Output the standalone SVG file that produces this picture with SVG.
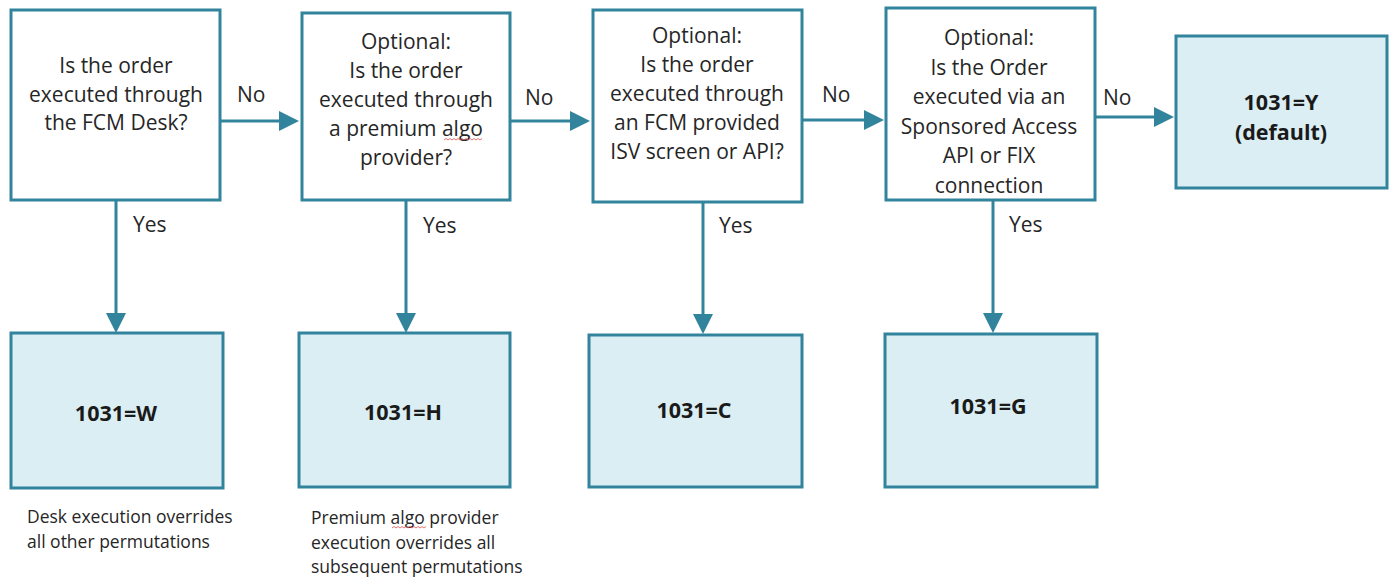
<svg xmlns="http://www.w3.org/2000/svg" width="1393" height="577" viewBox="0 0 1393 577">
<style>
  .q { fill: #ffffff; stroke: #31849B; stroke-width: 3; }
  .r { fill: #DAEEF3; stroke: #31849B; stroke-width: 3; }
  .t { font-family: "Open Sans", "Liberation Sans", sans-serif; font-size: 21px; fill: #262626; text-anchor: middle; }
  .b { font-family: "Open Sans", "Liberation Sans", sans-serif; font-size: 21.5px; font-weight: bold; fill: #1a1a1a; text-anchor: middle; }
  .l { font-family: "Open Sans", "Liberation Sans", sans-serif; font-size: 21px; fill: #262626; }
  .c { font-family: "Open Sans", "Liberation Sans", sans-serif; font-size: 17.5px; fill: #262626; }
  .e { fill: none; stroke: #31849B; stroke-width: 3; marker-end: url(#ah); }
  .sq { fill: none; stroke: #e05050; stroke-width: 0.8; }
</style>
<defs>
  <marker id="ah" markerUnits="userSpaceOnUse" markerWidth="20" markerHeight="20" refX="16" refY="10" orient="auto">
    <path d="M0,0 L20,10 L0,20 z" fill="#31849B"/>
  </marker>
</defs>
<rect width="1393" height="577" fill="#ffffff"/>

<g id="connectors">
  <line class="e" x1="220" y1="121" x2="295" y2="121"/>
  <text class="l" x="237" y="102">No</text>
  <line class="e" x1="510" y1="121" x2="586" y2="121"/>
  <text class="l" x="525" y="105">No</text>
  <line class="e" x1="802" y1="120" x2="880" y2="120"/>
  <text class="l" x="822" y="102">No</text>
  <line class="e" x1="1095" y1="117" x2="1170" y2="117"/>
  <text class="l" x="1103" y="105">No</text>

  <line class="e" x1="116" y1="200" x2="116" y2="329"/>
  <text class="l" x="133" y="232">Yes</text>
  <line class="e" x1="406" y1="200" x2="406" y2="329"/>
  <text class="l" x="423" y="233">Yes</text>
  <line class="e" x1="703" y1="202" x2="703" y2="330"/>
  <text class="l" x="719" y="233">Yes</text>
  <line class="e" x1="993" y1="200" x2="993" y2="329"/>
  <text class="l" x="1009" y="232">Yes</text>
</g>

<g id="q1">
  <rect class="q" x="11" y="10" width="209" height="190"/>
  <text class="t" x="116" y="73">Is the order</text>
  <text class="t" x="116" y="102">executed through</text>
  <text class="t" x="116" y="130">the FCM Desk?</text>
</g>

<g id="q2">
  <rect class="q" x="302" y="13" width="208" height="187"/>
  <text class="t" x="406" y="49">Optional:</text>
  <text class="t" x="406" y="78">Is the order</text>
  <text class="t" x="406" y="107">executed through</text>
  <text class="t" x="406" y="136">a premium algo</text>
  <text class="t" x="406" y="165">provider?</text>
  <path class="sq" d="M444,140 l2,-1.5 l2,1.5 l2,-1.5 l2,1.5 l2,-1.5 l2,1.5 l2,-1.5 l2,1.5 l2,-1.5 l2,1.5 l2,-1.5 l2,1.5 l2,-1.5 l2,1.5 l2,-1.5 l2,1.5 l2,-1.5 l2,1.5 l2,-1.5"/>
</g>

<g id="q3">
  <rect class="q" x="593" y="10" width="209" height="192"/>
  <text class="t" x="697" y="43">Optional:</text>
  <text class="t" x="697" y="72">Is the order</text>
  <text class="t" x="697" y="101">executed through</text>
  <text class="t" x="697" y="130">an FCM provided</text>
  <text class="t" x="697" y="159">ISV screen or API?</text>
</g>

<g id="q4">
  <rect class="q" x="886" y="8" width="209" height="192"/>
  <text class="t" x="989" y="45">Optional:</text>
  <text class="t" x="989" y="74.5">Is the Order</text>
  <text class="t" x="989" y="104">executed via an</text>
  <text class="t" x="989" y="133.5">Sponsored Access</text>
  <text class="t" x="989" y="163">API or FIX</text>
  <text class="t" x="989" y="192.5">connection</text>
</g>

<g id="ry">
  <rect class="r" x="1176" y="36" width="211" height="152"/>
  <text class="b" x="1281" y="110">1031=Y</text>
  <text class="b" x="1281" y="140">(default)</text>
</g>

<g id="rw">
  <rect class="r" x="11" y="333" width="212" height="155"/>
  <text class="b" x="116" y="421">1031=W</text>
</g>

<g id="rh">
  <rect class="r" x="299" y="333" width="211" height="154"/>
  <text class="b" x="403" y="420">1031=H</text>
</g>

<g id="rc">
  <rect class="r" x="589" y="335" width="213" height="152"/>
  <text class="b" x="694" y="418">1031=C</text>
</g>

<g id="rg">
  <rect class="r" x="885" y="334" width="212" height="153"/>
  <text class="b" x="988" y="414">1031=G</text>
</g>

<g id="note1">
  <text class="c" x="27" y="523">Desk execution overrides</text>
  <text class="c" x="27" y="548">all other permutations</text>
</g>

<g id="note2">
  <text class="c" x="311" y="524">Premium algo provider</text>
  <text class="c" x="311" y="549">execution overrides all</text>
  <text class="c" x="311" y="573">subsequent permutations</text>
  <path class="sq" d="M392,528 l2,-1.5 l2,1.5 l2,-1.5 l2,1.5 l2,-1.5 l2,1.5 l2,-1.5 l2,1.5 l2,-1.5 l2,1.5 l2,-1.5 l2,1.5 l2,-1.5 l2,1.5 l2,-1.5 l2,1.5 l2,-1.5"/>
</g>
</svg>
